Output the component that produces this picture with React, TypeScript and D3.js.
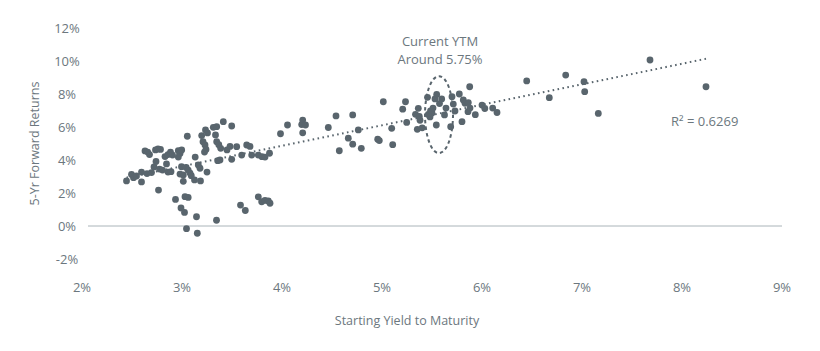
import React from 'react';
import * as d3 from 'd3';

// Starting yield to maturity (%) and the 5-yr forward return (%) that followed
const yieldPct = [
  2.445, 2.495, 2.515, 2.545, 2.595, 2.595, 2.63, 2.657, 2.675, 2.65,
  2.695, 2.72, 2.735, 2.76, 2.785, 2.74, 2.765, 2.775, 2.805, 2.83,
  2.86, 2.885, 2.905, 2.845, 2.86, 2.89, 2.935, 2.963, 2.98, 2.963,
  2.997, 2.98, 2.995, 3.013, 3.042, 3.062, 3.08, 3.093, 2.99, 3.025,
  3.013, 3.03, 3.062, 3.045, 3.053, 3.125, 3.145, 3.132, 3.153, 3.163,
  3.18, 3.185, 3.197, 3.21, 3.235, 3.255, 3.23, 3.24, 3.225, 3.25,
  3.313, 3.347, 3.335, 3.347, 3.368, 3.345, 3.357, 3.38, 3.387, 3.413,
  3.45, 3.48, 3.497, 3.497, 3.547, 3.585, 3.633, 3.597, 3.647, 3.68,
  3.697, 3.763, 3.797, 3.83, 3.863, 3.88, 3.763, 3.8, 3.83, 3.875,
  3.985, 4.055, 4.207, 4.197, 4.235, 4.207, 4.463, 4.54, 4.573, 4.663,
  4.707, 4.707, 4.763, 4.793, 4.957, 4.973, 5.013, 5.097, 5.107, 5.207,
  5.235, 5.247, 5.335, 5.363, 5.373, 5.38, 5.353, 5.402, 5.455, 5.463,
  5.485, 5.5, 5.51, 5.53, 5.547, 5.575, 5.597, 5.543, 5.625, 5.64,
  5.7, 5.713, 5.687, 5.73, 5.773, 5.813, 5.83, 5.863, 5.877, 5.88,
  5.86, 5.933, 5.8, 6.0, 6.028, 6.107, 6.15, 6.447, 6.673, 6.837,
  7.02, 7.027, 7.163, 7.68, 8.24, 5.48,
];

const fwdReturnPct = [
  2.73, 3.12, 2.93, 3.03, 3.27, 2.67, 4.55, 4.48, 4.33, 3.18,
  3.24, 3.58, 4.61, 4.67, 4.64, 3.91, 2.18, 3.45, 3.39, 4.21,
  4.33, 4.48, 4.3, 3.76, 3.27, 3.29, 1.61, 4.56, 4.39, 4.18,
  4.61, 3.15, 3.59, 3.09, 3.55, 3.39, 3.21, 3.05, 1.09, 0.82,
  2.71, 1.78, 1.73, -0.16, 5.44, 2.79, 0.56, 4.18, -0.44, 3.7,
  3.5, 2.73, 5.48, 5.11, 5.82, 5.64, 4.91, 4.64, 4.48, 3.27,
  5.98, 6.02, 5.52, 5.11, 4.93, 0.35, 3.96, 4.0, 4.71, 6.32,
  4.61, 4.82, 6.06, 4.04, 4.81, 1.27, 0.94, 4.3, 4.91, 4.82,
  4.3, 1.77, 1.47, 1.55, 1.52, 1.38, 4.3, 4.2, 4.18, 4.41,
  5.59, 6.12, 6.42, 6.15, 6.12, 5.65, 5.97, 6.67, 4.56, 5.32,
  4.96, 6.73, 5.82, 4.71, 5.26, 5.18, 7.53, 5.92, 4.93, 7.08,
  7.53, 6.28, 6.77, 7.13, 6.65, 6.41, 5.86, 5.95, 7.8, 6.76,
  6.97, 6.85, 7.15, 7.7, 7.97, 7.42, 7.7, 6.12, 6.73, 7.15,
  7.84, 7.39, 6.02, 6.97, 8.0, 7.64, 7.44, 7.48, 8.44, 7.15,
  6.93, 6.75, 6.32, 7.33, 7.12, 7.15, 6.88, 8.79, 7.78, 9.15,
  8.75, 8.14, 6.82, 10.06, 8.44, 6.61,
];

// linear trend as printed on the chart
const trendIntercept = -0.11;
const trendSlope = 1.243;
const rSquared = '0.6269';

// highlighted current-yield cluster
const currentYtm = 5.58;
const currentReturn = 6.75;

const xTicks = [2, 3, 4, 5, 6, 7, 8, 9];
const yTicks = [-2, 0, 2, 4, 6, 8, 10, 12];

const width = 820;
const height = 351;
const dotColor = '#59656d';
const textColor = '#6c777e';
const font = '"Open Sans", "DejaVu Sans", sans-serif';

const App = () => {
  const x = d3.scaleLinear().domain([2, 9]).range([82, 782]);
  const y = d3.scaleLinear().domain([-2, 12]).range([259, 28]);

  const points = yieldPct.map((v, i) => ({ x: v, y: fwdReturnPct[i] }));
  const [xMin, xMax] = d3.extent(yieldPct) as [number, number];
  const trend = d3.line<number>()
    .x(d => x(d))
    .y(d => y(trendIntercept + trendSlope * d))([xMin, xMax]);

  return (
    <svg width={width} height={height}
      style={{ position: 'absolute', left: 0, top: 0, background: '#fff' }}
      fontFamily={font}>
      {/* zero line */}
      <line x1={88} x2={x(9)} y1={y(0)} y2={y(0)} stroke="#aab4b9" strokeWidth={1} />

      {/* y ticks */}
      {yTicks.map(t => (
        <text key={t} x={67} y={y(t)} dy="0.35em" textAnchor="middle"
          fontSize={13} fill={textColor}>{t}%</text>
      ))}

      {/* x ticks */}
      {xTicks.map(t => (
        <text key={t} x={x(t)} y={287} dy="0.35em" textAnchor="middle"
          fontSize={13} fill={textColor}>{t}%</text>
      ))}

      <text x={x(5.5) - 25} y={321} dy="0.35em" textAnchor="middle"
        fontSize={12.5} fill={textColor}>Starting Yield to Maturity</text>
      <text transform={`translate(35,${(y(-2) + y(12)) / 2}) rotate(-90)`}
        dy="0.35em" textAnchor="middle" fontSize={12.5} fill={textColor}>
        5-Yr Forward Returns
      </text>

      {/* points */}
      {points.map((p, i) => (
        <circle key={i} cx={x(p.x)} cy={y(p.y)} r={3.4} fill={dotColor} />
      ))}

      {/* trend line */}
      <path d={trend ?? ''} fill="none" stroke={dotColor} strokeWidth={2}
        strokeDasharray="1.6 3.4" />

      {/* current YTM ellipse */}
      <ellipse cx={x(currentYtm) - 1} cy={y(currentReturn)} rx={14} ry={38.5}
        fill="none" stroke={dotColor} strokeWidth={2} strokeDasharray="3.5 3" />

      <text x={x(currentYtm)} y={46} textAnchor="middle" fontSize={13} fill={textColor}>
        Current YTM
      </text>
      <text x={x(currentYtm)} y={64} textAnchor="middle" fontSize={13} fill={textColor}>
        Around 5.75%
      </text>

      <text x={671} y={126} fontSize={13} fill={textColor}>R² = {rSquared}</text>
    </svg>
  );
};

export default App;
